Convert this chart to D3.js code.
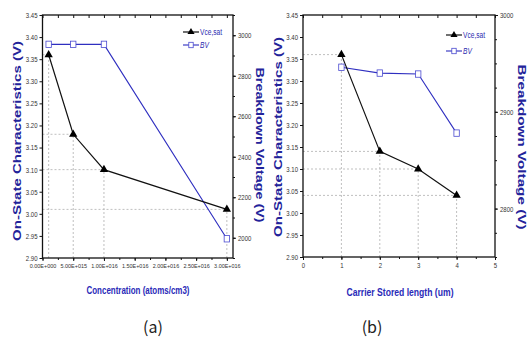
<!DOCTYPE html>
<html><head><meta charset="utf-8">
<script src="https://cdn.jsdelivr.net/npm/d3@7"></script>
<style>
html,body{margin:0;padding:0;background:#fff;}
svg{display:block;}
.tick text{font-family:"Liberation Sans",Arial,sans-serif;font-size:7.5px;fill:#333;}
</style></head>
<body>
<svg id="c" width="528" height="340"></svg>
<script>
// ---- Panel (a) data ----
const concentration = [1e15, 5e15, 1e16, 3e16];
const vceA = [3.36, 3.18, 3.10, 3.01];
const bvA = [2955, 2955, 2955, 1995];
const xTicksA = [0, 5e15, 1e16, 1.5e16, 2e16, 2.5e16, 3e16];
const xTickLabelsA = ["0.00E+000","5.00E+015","1.00E+016","1.50E+016","2.00E+016","2.50E+016","3.00E+016"];
// ---- Panel (b) data ----
const storedLength = [1, 2, 3, 4];
const vceB = [3.36, 3.14, 3.10, 3.04];
const bvB = [2946, 2940, 2939, 2878];
const xTicksB = [0, 1, 2, 3, 4, 5];
// ---- shared axis ticks ----
const yLeftTicks = [2.90, 2.95, 3.00, 3.05, 3.10, 3.15, 3.20, 3.25, 3.30, 3.35, 3.40, 3.45];
const yRightTicksA = [2000, 2200, 2400, 2600, 2800, 3000];
const yRightTicksB = [2800, 2900, 3000];
const legendLabels = ["Vce,sat", "BV"];
const titles = {
  left: "On-State Characteristics (V)",
  right: "Breakdown Voltage (V)",
  xA: "Concentration (atoms/cm3)",
  xB: "Carrier Stored length (um)",
  capA: "(a)", capB: "(b)"
};

const svg = d3.select("#c");
const BLUE = "#2f2fc0";
const TITLEBLUE = "#23239a";

function condense(sel, f) {
  sel.each(function () {
    const w = this.getComputedTextLength();
    d3.select(this).attr("textLength", w * f).attr("lengthAdjust", "spacingAndGlyphs");
  });
}
function fitTo(sel, w) {
  sel.attr("textLength", w).attr("lengthAdjust", "spacingAndGlyphs");
}

function panel(o) {
  const g = svg.append("g");
  const x = d3.scaleLinear().domain(o.xDomain).range([o.left, o.right]);
  const yL = d3.scaleLinear().domain([2.90, 3.45]).range([o.bottom, o.top]);
  const yR = d3.scaleLinear().domain(o.yRDomain).range([o.bottom, o.top]);

  // guide lines
  const guides = g.append("g").attr("stroke", "#b8b8b8").attr("stroke-width", 0.9)
    .attr("stroke-dasharray", "2,2").attr("fill", "none");
  o.xs.forEach((xv, i) => {
    guides.append("line").attr("x1", x(xv)).attr("x2", x(xv)).attr("y1", o.bottom).attr("y2", yL(o.vce[i]));
    guides.append("line").attr("x1", o.left).attr("x2", x(xv)).attr("y1", yL(o.vce[i])).attr("y2", yL(o.vce[i]));
  });

  // axes
  const minorX = d3.range(o.xDomain[0], o.xDomain[1] + 1e-9, o.xMinor);
  const xa = g.append("g").attr("transform", `translate(0,${o.bottom})`)
    .call(d3.axisBottom(x).tickValues(o.xTicks).tickSize(3).tickPadding(3)
      .tickFormat((d, i) => o.xLabels[i]))
    .call(a => a.select(".domain").remove());
  xa.selectAll("text").style("font-size", o.xFont + "px");
  condense(xa.selectAll("text"), o.xCond);
  g.append("g").attr("transform", `translate(0,${o.bottom})`)
    .call(d3.axisBottom(x).tickValues(minorX).tickSize(2).tickFormat(""))
    .call(a => a.select(".domain").remove());
  g.append("g").attr("transform", `translate(0,${o.top})`)
    .call(d3.axisBottom(x).tickValues(minorX).tickSize(3).tickFormat(""))
    .call(a => a.select(".domain").remove());
  const yla = g.append("g").attr("transform", `translate(${o.left},0)`)
    .call(d3.axisLeft(yL).tickValues(yLeftTicks).tickSize(3).tickPadding(2).tickFormat(d3.format(".2f")))
    .call(a => a.select(".domain").remove());
  condense(yla.selectAll("text"), 0.8);
  const yra = g.append("g").attr("transform", `translate(${o.right},0)`)
    .call(d3.axisRight(yR).tickValues(o.yRTicks).tickSize(3).tickPadding(2).tickFormat(d3.format("d")))
    .call(a => a.select(".domain").remove());
  condense(yra.selectAll("text"), 0.8);
  g.append("g").attr("transform", `translate(${o.right},0)`)
    .call(d3.axisRight(yR).tickValues(d3.range(Math.ceil(o.yRDomain[0] / o.yRMinor) * o.yRMinor, o.yRDomain[1] + 1e-9, o.yRMinor)).tickSize(2).tickFormat(""))
    .call(a => a.select(".domain").remove());
  g.selectAll(".tick line").attr("stroke", "#111");
  // frame
  g.append("rect").attr("x", o.left).attr("y", o.top).attr("width", o.right - o.left)
    .attr("height", o.bottom - o.top).attr("fill", "none").attr("stroke", "#111").attr("stroke-width", 1.3);

  // BV line
  const lineBV = d3.line().x((d, i) => x(o.xs[i])).y(d => yR(d));
  g.append("path").datum(o.bv).attr("d", lineBV).attr("fill", "none").attr("stroke", BLUE).attr("stroke-width", 1.1);
  // Vce line
  const lineV = d3.line().x((d, i) => x(o.xs[i])).y(d => yL(d));
  g.append("path").datum(o.vce).attr("d", lineV).attr("fill", "none").attr("stroke", "#111").attr("stroke-width", 1.2);
  // markers
  const tri = d3.symbol().type(d3.symbolTriangle).size(30);
  g.selectAll(".tri").data(o.vce).join("path").attr("class", "tri")
    .attr("transform", (d, i) => `translate(${x(o.xs[i])},${yL(d)})`).attr("d", tri).attr("fill", "#000");
  g.selectAll(".sq").data(o.bv).join("rect").attr("class", "sq")
    .attr("x", (d, i) => x(o.xs[i]) - 2.7).attr("y", d => yR(d) - 3.2).attr("width", 5.4).attr("height", 6.4)
    .attr("fill", "#fff").attr("stroke", "#4a4ad0").attr("stroke-width", 0.8);

  // legend
  const lg = g.append("g").attr("transform", `translate(${o.legX},${o.legY})`);
  lg.append("line").attr("x1", 0).attr("x2", 16).attr("y1", 0).attr("y2", 0).attr("stroke", "#111").attr("stroke-width", 1.2);
  lg.append("path").attr("transform", "translate(8,0)").attr("d", d3.symbol().type(d3.symbolTriangle).size(22)).attr("fill", "#000");
  lg.append("text").attr("x", 17).attr("y", 3).text(legendLabels[0]);
  lg.append("line").attr("x1", 0).attr("x2", 16).attr("y1", o.legGap).attr("y2", o.legGap).attr("stroke", BLUE).attr("stroke-width", 1.1);
  lg.append("rect").attr("x", 5.8).attr("y", o.legGap - 2.7).attr("width", 4.4).attr("height", 5.4).attr("fill", "#fff").attr("stroke", "#4a4ad0").attr("stroke-width", 0.8);
  lg.append("text").attr("x", 17).attr("y", o.legGap + 3).attr("font-style", "italic").text(legendLabels[1]);
  lg.selectAll("text").attr("font-family", '"Liberation Sans",Arial,sans-serif')
    .attr("font-size", 8.5).attr("fill", "#2b2bb0");
  condense(lg.selectAll("text"), 0.78);

  // titles
  g.append("text").attr("transform", `translate(${o.ltX},${o.ltY}) rotate(-90)`).attr("text-anchor", "middle")
    .attr("font-family", '"Liberation Sans",Arial,sans-serif').attr("font-weight", "bold").attr("font-size", 11.5)
    .attr("fill", TITLEBLUE).text(titles.left).call(fitTo, o.ltW);
  g.append("text").attr("transform", `translate(${o.rtX},${o.rtY}) rotate(90)`).attr("text-anchor", "middle")
    .attr("font-family", '"Liberation Sans",Arial,sans-serif').attr("font-weight", "bold").attr("font-size", 11.5)
    .attr("fill", TITLEBLUE).text(titles.right).call(fitTo, o.rtW);
  g.append("text").attr("x", o.xtX).attr("y", o.xtY).attr("text-anchor", "middle")
    .attr("font-family", '"Liberation Sans",Arial,sans-serif').attr("font-weight", "bold").attr("font-size", 10.5)
    .attr("fill", "#2a2ab8").text(o.xTitle).call(fitTo, o.xtW);
  g.append("text").attr("x", o.capX).attr("y", 333).attr("text-anchor", "middle")
    .attr("font-family", '"Noto Sans CJK KR","Noto Sans",sans-serif').attr("font-size", 16)
    .attr("fill", "#222").text(o.cap);
}

panel({
  left: 42.5, right: 233, top: 15, bottom: 258,
  xDomain: [0, 3.1e16], xTicks: xTicksA, xLabels: xTickLabelsA, xMinor: 2.5e15, xFont: 6.2, xCond: 0.88,
  yRDomain: [1900, 3100], yRTicks: yRightTicksA, yRMinor: 100,
  xs: concentration, vce: vceA, bv: bvA,
  legX: 183, legY: 32, legGap: 13,
  ltX: 21, ltY: 141, ltW: 200, rtX: 256, rtY: 145, rtW: 155,
  xtX: 138, xtY: 294, xtW: 103, xTitle: titles.xA,
  capX: 153, cap: titles.capA
});
panel({
  left: 303, right: 495, top: 15, bottom: 257,
  xDomain: [0, 5], xTicks: xTicksB, xLabels: xTicksB.map(String), xMinor: 0.5, xFont: 7.5, xCond: 0.8,
  yRDomain: [2750, 3000], yRTicks: yRightTicksB, yRMinor: 25,
  xs: storedLength, vce: vceB, bv: bvB,
  legX: 446, legY: 35, legGap: 16,
  ltX: 282, ltY: 137, ltW: 200, rtX: 518, rtY: 147, rtW: 165,
  xtX: 400, xtY: 296, xtW: 107, xTitle: titles.xB,
  capX: 372, cap: titles.capB
});
</script>
</body></html>
